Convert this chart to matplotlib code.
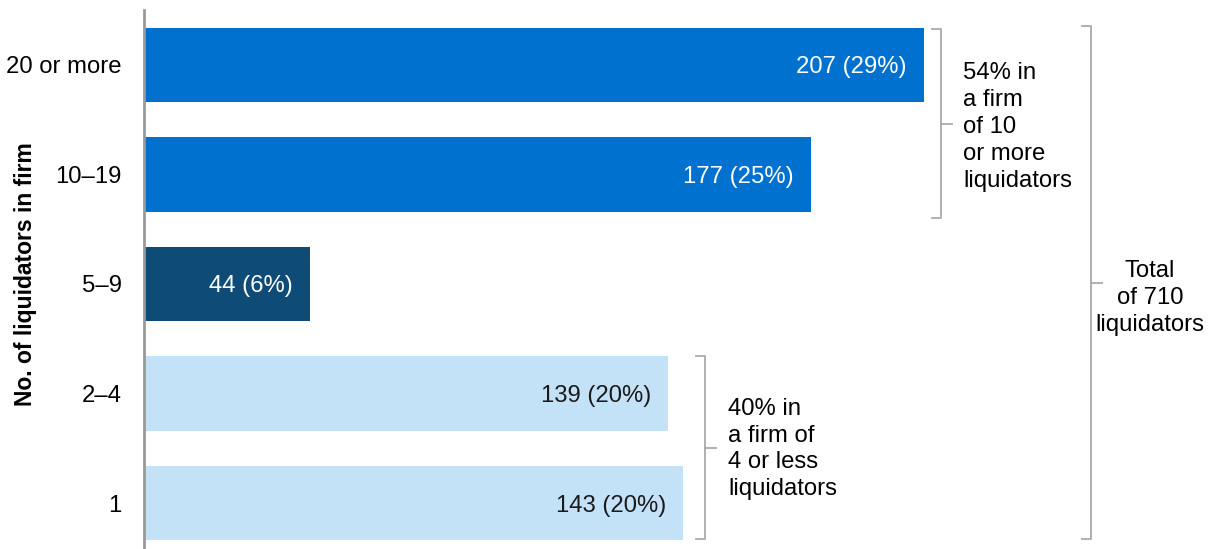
import matplotlib
matplotlib.use("Agg")
import matplotlib.pyplot as plt

plt.rcParams['font.family'] = ['Liberation Sans', 'DejaVu Sans']

# data
categories = ['1', '2–4', '5–9', '10–19', '20 or more']
counts = [143, 139, 44, 177, 207]
shares = [20, 20, 6, 25, 29]
colors = ['#C4E2F7', '#C4E2F7', '#0E4B77', '#0071CE', '#0071CE']
label_colors = ['#1a1a1a', '#1a1a1a', 'white', 'white', 'white']

W, H = 1215, 549
fig = plt.figure(figsize=(W / 100, H / 100), dpi=100)
ax_left = 144 / W
ax_top = 10 / H
ax = fig.add_axes([ax_left, 0, 1 - ax_left, 1 - ax_top])

ypos = list(range(len(categories)))
ax.barh(ypos, counts, height=0.68, color=colors)

px = 3.768  # pixels per unit on x
ax.set_xlim(0, (W - 144) / px)
ax.set_ylim(-0.42, 4.502)

fs = 17.2
for y, c, s, lc in zip(ypos, counts, shares, label_colors):
    ax.text(c - 17 / px, y, f'{c} ({s}%)', ha='right', va='center_baseline',
            color=lc, fontsize=fs)

ax.set_yticks(ypos)
ax.set_yticklabels(categories, fontsize=fs, va='center_baseline')
ax.tick_params(axis='y', length=0, pad=16)
ax.set_xticks([])
for sp in ['top', 'right', 'bottom']:
    ax.spines[sp].set_visible(False)
ax.spines['left'].set_color('#999999')
ax.spines['left'].set_linewidth(2)

ax.set_ylabel('No. of liquidators in firm', fontsize=16.5, fontweight='bold')
ax.yaxis.set_label_coords(-107 / (W - 144), 0.51)


def px_x(p):
    return (p - 144) / px


def px_y(p):
    # pixel row -> data y
    return 4 - (p - 65) / 109.5


def bracket(x, top, bottom, mid, hook=9, nub=11):
    kw = dict(color='#aaaaaa', lw=1.3, clip_on=False)
    ax.plot([px_x(x - hook), px_x(x), px_x(x), px_x(x - hook)],
            [px_y(top), px_y(top), px_y(bottom), px_y(bottom)], **kw)
    ax.plot([px_x(x), px_x(x + nub)], [px_y(mid), px_y(mid)], **kw)


bracket(941, 29, 218, 124)
bracket(705, 356, 539, 448)
bracket(1091, 26, 539, 283)

ax.text(px_x(963), px_y(127), '54% in\na firm\nof 10\nor more\nliquidators',
        ha='left', va='center', fontsize=fs, linespacing=1.29)
ax.text(px_x(728), px_y(449), '40% in\na firm of\n4 or less\nliquidators',
        ha='left', va='center', fontsize=fs, linespacing=1.29)
ax.text(px_x(1150), px_y(298), 'Total\nof 710\nliquidators',
        ha='center', va='center', fontsize=fs, linespacing=1.29)

fig.savefig('out.png', dpi=100)
